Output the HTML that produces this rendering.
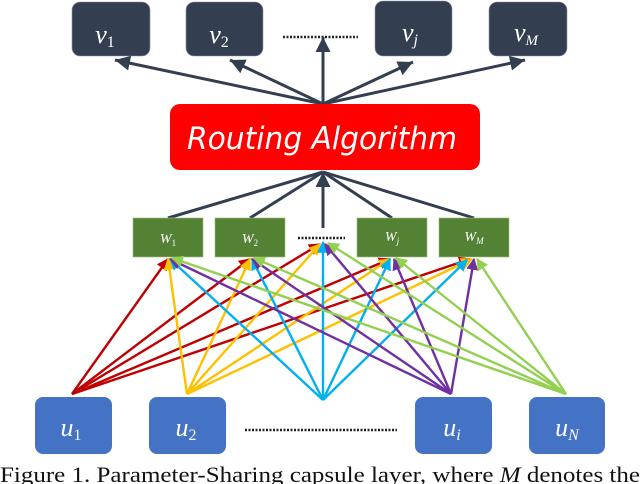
<!DOCTYPE html>
<html><head><meta charset="utf-8"><style>
html,body{margin:0;padding:0;background:#fff;width:640px;height:484px;overflow:hidden}
svg{display:block}
</style></head><body>
<svg width="640" height="484" viewBox="0 0 640 484" xmlns="http://www.w3.org/2000/svg">
<defs>
<marker id="ad" markerWidth="6" markerHeight="6" refX="5" refY="3" orient="auto" markerUnits="strokeWidth"><path d="M0,0.5 L5,3 L0,5.5 z" fill="#333f50"/></marker>
<marker id="mr" markerWidth="5" markerHeight="5" refX="4.5" refY="2.5" orient="auto" markerUnits="strokeWidth"><path d="M0,0 L5,2.5 L0,5 z" fill="#c00000"/></marker>
<marker id="my" markerWidth="5" markerHeight="5" refX="4.5" refY="2.5" orient="auto" markerUnits="strokeWidth"><path d="M0,0 L5,2.5 L0,5 z" fill="#ffc000"/></marker>
<marker id="mb" markerWidth="5" markerHeight="5" refX="4.5" refY="2.5" orient="auto" markerUnits="strokeWidth"><path d="M0,0 L5,2.5 L0,5 z" fill="#00b0f0"/></marker>
<marker id="mp" markerWidth="5" markerHeight="5" refX="4.5" refY="2.5" orient="auto" markerUnits="strokeWidth"><path d="M0,0 L5,2.5 L0,5 z" fill="#7030a0"/></marker>
<marker id="mg" markerWidth="5" markerHeight="5" refX="4.5" refY="2.5" orient="auto" markerUnits="strokeWidth"><path d="M0,0 L5,2.5 L0,5 z" fill="#92d050"/></marker>
</defs>
<g font-family="Liberation Serif, serif" font-style="italic">
<g fill="#333f50" stroke="#8a96a8" stroke-width="0.6">
<rect x="72" y="2" width="78" height="54" rx="8"/>
<rect x="186" y="2" width="77" height="54" rx="8"/>
<rect x="375" y="1" width="77" height="55" rx="8"/>
<rect x="489" y="2" width="78" height="54" rx="8"/>
</g>
<g fill="#fff" font-size="26" text-anchor="middle">
<text x="105" y="43">v<tspan font-size="16" font-style="normal" dy="4">1</tspan></text>
<text x="219" y="43">v<tspan font-size="16" font-style="normal" dy="4">2</tspan></text>
<text x="410" y="41">v<tspan font-size="16" dy="4">j</tspan></text>
<text x="526" y="41">v<tspan font-size="15" dy="4">M</tspan></text>
</g>
<line x1="283" y1="37" x2="358" y2="37" stroke="#222" stroke-width="2.5" stroke-dasharray="2,1.5"/>
<g stroke="#333f50" stroke-width="3" fill="none" marker-end="url(#ad)">
<line x1="323" y1="104" x2="115" y2="60"/>
<line x1="323" y1="104" x2="230" y2="60"/>
<line x1="323" y1="104" x2="323" y2="37"/>
<line x1="323" y1="104" x2="413" y2="62"/>
<line x1="323" y1="104" x2="525" y2="60"/>
</g>
<rect x="170" y="104" width="310" height="66" rx="10" fill="#ff0000"/>
<text x="322" y="149" fill="#fff" font-size="31" text-anchor="middle" font-family="DejaVu Sans, sans-serif" font-style="italic" textLength="270" lengthAdjust="spacingAndGlyphs">Routing Algorithm</text>
<g stroke="#333f50" stroke-width="3" fill="none">
<line x1="168" y1="218" x2="323" y2="172"/>
<line x1="250" y1="218" x2="323" y2="172"/>
<line x1="323" y1="228" x2="323" y2="172" marker-end="url(#ad)"/>
<line x1="392" y1="218" x2="323" y2="172"/>
<line x1="474" y1="218" x2="323" y2="172"/>
</g>
<g fill="#548235" stroke="#9cbf7a" stroke-width="0.6">
<rect x="133" y="218" width="70" height="39"/>
<rect x="215" y="218" width="70" height="39"/>
<rect x="357" y="218" width="70" height="39"/>
<rect x="439" y="218" width="70" height="39"/>
</g>
<g fill="#fff" font-size="14" text-anchor="middle">
<text x="168" y="243">W<tspan font-size="9" font-style="normal" dy="3">1</tspan></text>
<text x="250" y="243">W<tspan font-size="9" font-style="normal" dy="3">2</tspan></text>
<text x="392" y="241">W<tspan font-size="9" dy="3">j</tspan></text>
<text x="474" y="241">W<tspan font-size="9" dy="3">M</tspan></text>
</g>
<line x1="298" y1="238" x2="345" y2="238" stroke="#222" stroke-width="2.5" stroke-dasharray="2,1.5"/>
<g stroke-width="2.4" fill="none">
<g stroke="#c00000" marker-end="url(#mr)">
<line x1="72" y1="394" x2="168" y2="259"/><line x1="72" y1="394" x2="250" y2="259"/><line x1="72" y1="394" x2="320" y2="244"/><line x1="72" y1="394" x2="390" y2="259"/><line x1="72" y1="394" x2="470" y2="259"/>
</g>
<g stroke="#ffc000" marker-end="url(#my)">
<line x1="187" y1="394" x2="168" y2="259"/><line x1="187" y1="394" x2="250" y2="259"/><line x1="187" y1="394" x2="320" y2="244"/><line x1="187" y1="394" x2="390" y2="259"/><line x1="187" y1="394" x2="472" y2="259"/>
</g>
<g stroke="#00b0f0" marker-end="url(#mb)">
<line x1="323" y1="400" x2="170" y2="259"/><line x1="323" y1="400" x2="252" y2="259"/><line x1="323" y1="400" x2="323" y2="242"/><line x1="323" y1="400" x2="390" y2="259"/><line x1="323" y1="400" x2="467" y2="260"/>
</g>
<g stroke="#7030a0" marker-end="url(#mp)">
<line x1="451" y1="394" x2="170" y2="259"/><line x1="451" y1="394" x2="252" y2="259"/><line x1="451" y1="394" x2="325" y2="244"/><line x1="451" y1="394" x2="394" y2="259"/><line x1="451" y1="394" x2="474" y2="259"/>
</g>
<g stroke="#92d050" marker-end="url(#mg)">
<line x1="566" y1="394" x2="172" y2="258"/><line x1="566" y1="394" x2="254" y2="258"/><line x1="566" y1="394" x2="328" y2="243"/><line x1="566" y1="394" x2="396" y2="258"/><line x1="566" y1="394" x2="477" y2="259"/>
</g>
</g>
<g fill="#4472c4">
<rect x="35" y="397" width="77" height="57" rx="8"/>
<rect x="149" y="397" width="77" height="57" rx="8"/>
<rect x="415" y="397" width="77" height="57" rx="8"/>
<rect x="529" y="397" width="76" height="57" rx="8"/>
</g>
<g fill="#fff" font-size="26" text-anchor="middle">
<text x="71" y="436">u<tspan font-size="16" font-style="normal" dy="4">1</tspan></text>
<text x="186" y="436">u<tspan font-size="16" font-style="normal" dy="4">2</tspan></text>
<text x="452" y="436">u<tspan font-size="16" dy="4">i</tspan></text>
<text x="567" y="436">u<tspan font-size="16" dy="4">N</tspan></text>
</g>
<line x1="245" y1="430" x2="397" y2="430" stroke="#222" stroke-width="2.5" stroke-dasharray="2,1.5"/>
</g>
<text x="0" y="482" font-family="Liberation Serif, serif" font-size="22" fill="#111" textLength="640" lengthAdjust="spacingAndGlyphs">Figure 1. Parameter-Sharing capsule layer, where <tspan font-style="italic">M</tspan> denotes the</text>
</svg>
</body></html>
